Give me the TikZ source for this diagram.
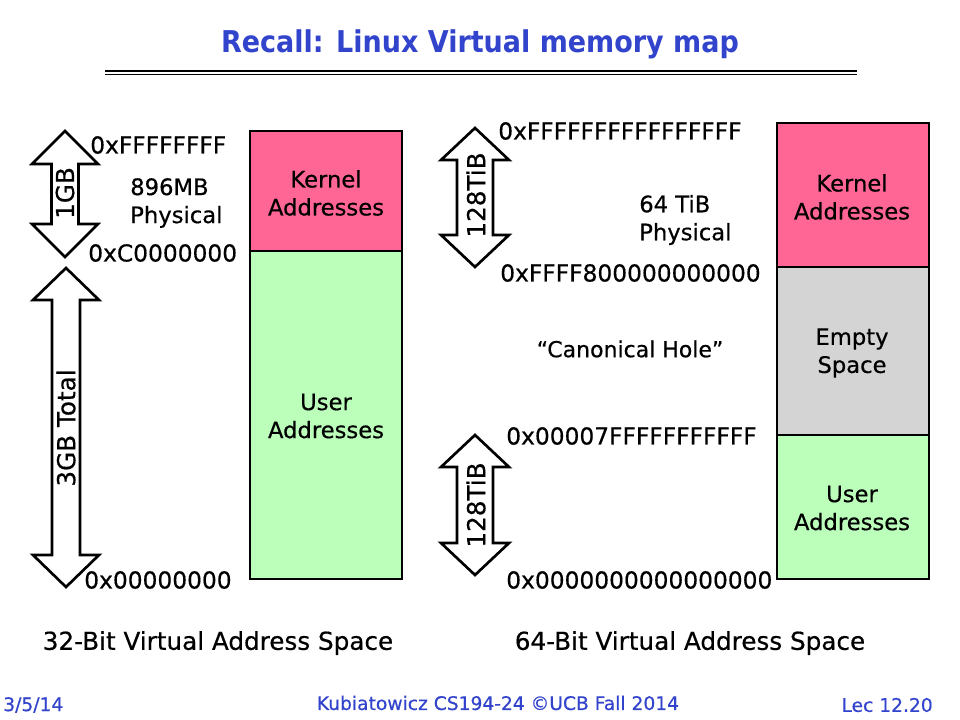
\documentclass[tikz,border=0pt]{standalone}
\usepackage{fontspec}
\setmainfont{DejaVu Sans}[FakeBold=0.5]
\newfontfamily\titlefont{DejaVu Sans Condensed Bold}
\definecolor{titleblue}{RGB}{51,68,204}
\definecolor{kpink}{RGB}{255,102,150}
\definecolor{ugreen}{RGB}{187,255,187}
\definecolor{egray}{RGB}{212,212,212}
\tikzset{
  lbl/.style={font=\fontsize{18.5}{22}\selectfont, inner sep=0pt},
  addr/.style={font=\fontsize{17.5}{21}\selectfont, inner sep=0pt, anchor=west},
  inblk/.style={font=\fontsize{17}{20}\selectfont, inner sep=0pt, align=center},
  phys/.style={font=\fontsize{17}{20}\selectfont, inner sep=0pt, anchor=west, align=left},
  blk/.style={draw=black, line width=2.2pt},
  bigarrow/.style={draw=black, line width=2pt, fill=white, line join=miter},
  foot/.style={font=\fontsize{14}{16}\selectfont, text=titleblue, inner sep=0pt},
}
\newcommand{\dblarr}[6]{% cx, top, bottom, halfhead, halfshaft, headlen
  \draw[bigarrow] (#1,#2) -- (#1+#4,#2+#6) -- (#1+#5,#2+#6) -- (#1+#5,#3-#6) -- (#1+#4,#3-#6)
    -- (#1,#3) -- (#1-#4,#3-#6) -- (#1-#5,#3-#6) -- (#1-#5,#2+#6) -- (#1-#4,#2+#6) -- cycle;}
\begin{document}
\begin{tikzpicture}[x=0.75pt,y=-0.75pt]
\useasboundingbox (0,0) rectangle (960,720);
\fill[white] (0,0) rectangle (960,720);
% title
\node[font=\fontsize{22.5}{26}\titlefont, text=titleblue, inner sep=0pt] (title) at (480,44) {Recall: Linux Virtual memory map};
\draw[line width=2.2pt] (105,71) -- (857,71);
\draw[line width=0.8pt] (105,74.5) -- (857,74.5);

% ---- left 32-bit ----
\fill[kpink] (250,131) rectangle (402,251);
\fill[ugreen] (250,251) rectangle (402,579);
\draw[blk] (250,131) rectangle (402,579);
\draw[blk] (250,251) -- (402,251);
\node[inblk] (k32) at (326,193) {Kernel\\[1pt]Addresses};
\node[inblk] (u32) at (326,416) {User\\[1pt]Addresses};

\dblarr{65}{131}{257}{33}{13.5}{33}
\dblarr{66}{268}{587}{33}{14}{32}
\node[lbl, rotate=90] (g1) at (65,193) {1GB};
\node[lbl, rotate=90] (g3) at (66,428) {3GB Total};

\node[addr] (a1) at (90,145) {0xFFFFFFFF};
\node[phys] (phys32) at (130,203) {896MB\\[1pt]Physical};
\node[addr] (a2) at (88,253) {0xC0000000};
\node[addr] (a3) at (84,580) {0x00000000};
\node[lbl] (cap32) at (218,643) {32-Bit Virtual Address Space};

% ---- right 64-bit ----
\fill[kpink] (777,123) rectangle (929,267);
\fill[egray] (777,267) rectangle (929,435);
\fill[ugreen] (777,435) rectangle (929,579);
\draw[blk] (777,123) rectangle (929,579);
\draw[blk] (777,267) -- (929,267);
\draw[blk] (777,435) -- (929,435);
\node[inblk] (k64) at (852,197) {Kernel\\[1pt]Addresses};
\node[inblk] (e64) at (852,353) {Empty\\[1pt]Space};
\node[inblk] (u64) at (852,508) {User\\[1pt]Addresses};

\dblarr{475}{128}{267}{34}{18}{32}
\dblarr{475}{435}{575}{34}{18}{32}
\node[lbl, rotate=90] (t1) at (476,195) {128TiB};
\node[lbl, rotate=90] (t2) at (476,505) {128TiB};

\node[addr] (b1) at (498,131) {0xFFFFFFFFFFFFFFFF};
\node[phys] (phys64) at (639,220) {64 TiB\\[1pt]Physical};
\node[addr] (b2) at (500,273) {0xFFFF800000000000};
\node[font=\fontsize{16.5}{20}\selectfont, inner sep=0pt] (hole) at (630,349) {“Canonical Hole”};
\node[addr] (b3) at (506,436) {0x00007FFFFFFFFFFF};
\node[addr] (b4) at (506,580) {0x0000000000000000};
\node[lbl] (cap64) at (690,643) {64-Bit Virtual Address Space};

% footer
\node[foot, anchor=west] (date) at (3,705) {3/5/14};
\node[foot] (auth) at (498,703) {Kubiatowicz CS194-24 ©UCB Fall 2014};
\node[foot, anchor=east] (lec) at (933,705) {Lec 12.20};
\end{tikzpicture}
\end{document}
